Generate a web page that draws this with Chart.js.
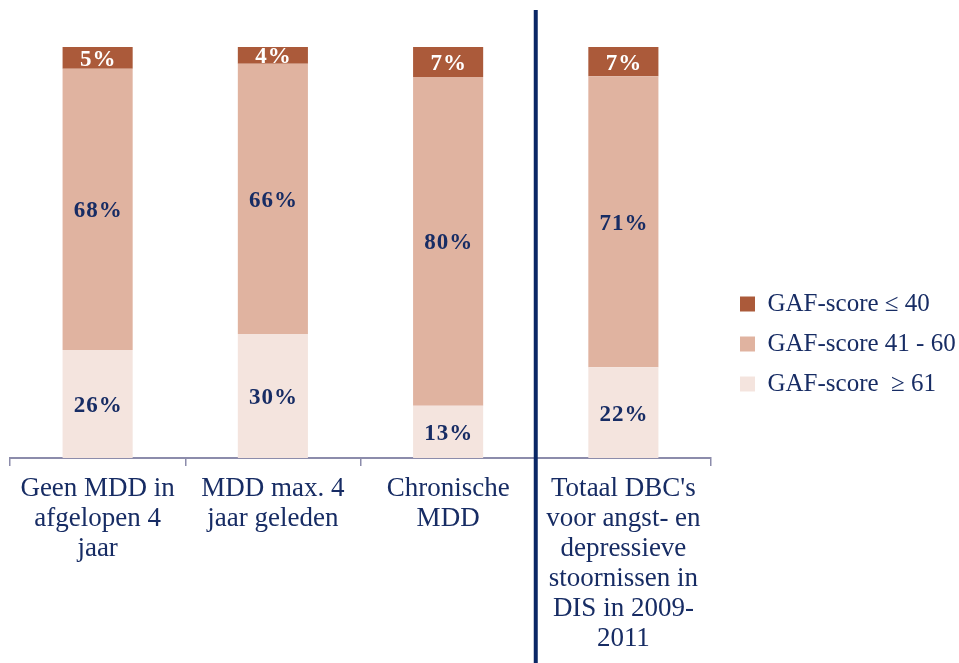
<!DOCTYPE html>
<html><head><meta charset="utf-8">
<script src="https://cdn.jsdelivr.net/npm/chart.js@4/dist/chart.umd.min.js"></script>
<style>html,body{margin:0;padding:0;background:#fff;overflow:hidden}#wrap{width:959px;height:663px;position:relative}</style>
</head><body><div id="wrap"><canvas id="c"></canvas></div>
<script>
const categories = [
  ["Geen MDD in", "afgelopen 4", "jaar"],
  ["MDD max. 4", "jaar geleden"],
  ["Chronische", "MDD"],
  ["Totaal DBC's", "voor angst- en", "depressieve", "stoornissen in", "DIS in 2009-", "2011"]
];
const seriesNames = ["GAF-score  \u2265 61", "GAF-score 41 - 60", "GAF-score \u2264 40"];
const gafHigh = [26.3, 30.2, 12.7, 22.1];
const gafMid = [68.4, 65.7, 80.0, 70.8];
const gafLow = [5.3, 4.1, 7.3, 7.1];

const NAVY = '#172c64';
const FONT = "'Liberation Serif', serif";
const colors = ['#f4e4de', '#e0b3a0', '#ab5a3a'];
const labelColors = [NAVY, NAVY, '#ffffff'];

const labelsPlugin = {
  id: 'segLabels',
  afterDatasetsDraw(chart) {
    const ctx = chart.ctx;
    ctx.save();
    ctx.textAlign = 'center';
    ctx.textBaseline = 'middle';
    ctx.font = "bold 23px " + FONT;
    try { ctx.letterSpacing = '1px'; } catch (e) {}
    chart.data.datasets.forEach((ds, di) => {
      const meta = chart.getDatasetMeta(di);
      meta.data.forEach((bar, i) => {
        const v = ds.data[i];
        const cy = (bar.y + bar.base) / 2;
        ctx.fillStyle = labelColors[di];
        ctx.fillText(Math.round(v) + '%', bar.x + 0.5, cy + 2);
      });
    });
    ctx.restore();
  }
};

const dividerPlugin = {
  id: 'divider',
  afterDraw(chart) {
    const xs = chart.scales.x;
    const x = xs.getPixelForValue(2.5);
    const ctx = chart.ctx;
    ctx.save();
    ctx.strokeStyle = '#0a2766';
    ctx.lineWidth = 4;
    ctx.beginPath();
    ctx.moveTo(x, 10);
    ctx.lineTo(x, chart.height);
    ctx.stroke();
    ctx.restore();
  }
};

new Chart(document.getElementById('c'), {
  type: 'bar',
  data: {
    labels: categories,
    datasets: [
      { label: seriesNames[0], data: gafHigh, backgroundColor: colors[0] },
      { label: seriesNames[1], data: gafMid, backgroundColor: colors[1] },
      { label: seriesNames[2], data: gafLow, backgroundColor: colors[2] }
    ]
  },
  options: {
    responsive: true,
    maintainAspectRatio: false,
    animation: false,
    barPercentage: 0.8,
    categoryPercentage: 0.5,
    layout: { padding: { top: 25, left: 10, right: 0, bottom: 0 } },
    plugins: {
      tooltip: { enabled: false },
      title: { display: true, text: ' ', font: { size: 12, lineHeight: 1 }, padding: { top: 5, bottom: 5 } },
      legend: {
        position: 'right',
        reverse: true,
        maxWidth: 234,
        labels: {
          boxWidth: 15, boxHeight: 15, padding: 15,
          color: NAVY,
          font: { family: FONT, size: 25 }
        }
      }
    },
    scales: {
      x: {
        stacked: true,
        grid: { offset: true, drawOnChartArea: false, drawTicks: true, tickLength: 8, color: '#8c8cab', lineWidth: 1.5 },
        border: { display: true, color: '#8c8cab', width: 2 },
        ticks: { color: NAVY, font: { family: FONT, size: 27, lineHeight: 30 / 27 }, padding: 8, maxRotation: 0, autoSkip: false },
        afterFit(s) { s.height = 205; }
      },
      y: {
        stacked: true,
        min: 0, max: 100,
        position: 'right',
        ticks: { display: false },
        grid: { display: false },
        border: { display: false },
        afterFit(s) { s.width = 14; }
      }
    }
  },
  plugins: [labelsPlugin, dividerPlugin]
});
</script>
</body></html>
